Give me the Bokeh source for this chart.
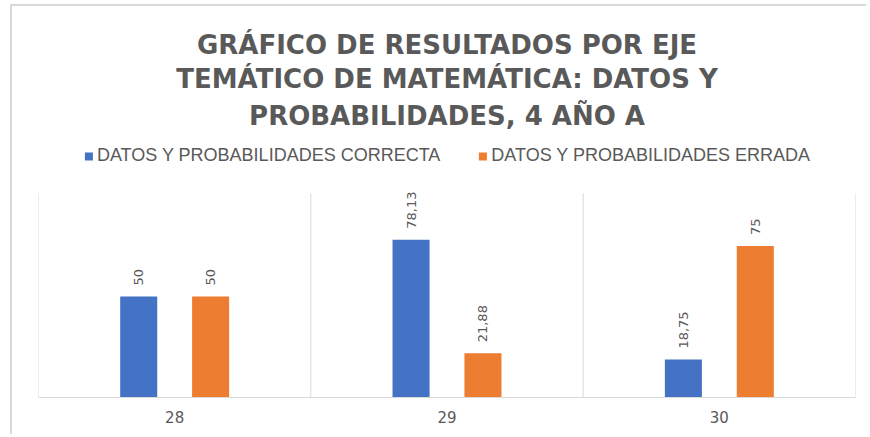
from bokeh.plotting import figure
from bokeh.models import ColumnDataSource, Title, Legend, LegendItem, Range1d, FactorRange
from bokeh.transform import dodge
from bokeh.embed import file_html
from bokeh.resources import INLINE
from bokeh.core.properties import value
import math

categories = ["28", "29", "30"]
correcta = [50, 78.13, 18.75]
errada = [50, 21.88, 75]
correcta_labels = ["50", "78,13", "18,75"]
errada_labels = ["50", "21,88", "75"]
series_names = ["DATOS Y PROBABILIDADES CORRECTA", "DATOS Y PROBABILIDADES ERRADA"]
title_lines = ["GRÁFICO DE RESULTADOS POR EJE",
               "TEMÁTICO DE MATEMÁTICA: DATOS Y",
               "PROBABILIDADES, 4 AÑO A"]

BLUE = "#4472C4"
ORANGE = "#ED7D31"
GRAY_TXT = "#595959"
GRID = "#D9D9D9"

src = ColumnDataSource(dict(cat=categories, c=correcta, e=errada,
                            cl=correcta_labels, el=errada_labels))

Y_TOP = 101  # top of the plotting zone (separators)
p = figure(width=856, height=430, x_range=FactorRange(*categories),
           y_range=Range1d(0, 129.7), output_backend="svg", toolbar_location=None,
           min_border_left=26, min_border_right=13, min_border_bottom=39, min_border_top=129)
p.title = None
p.outline_line_color = None
p.background_fill_color = "white"
p.border_fill_color = "white"
p.styles = {"margin-left": "10px", "margin-top": "4px",
            "border-left": "2px solid #D9D9D9", "border-top": "2px solid #D9D9D9"}

off = 0.132
w = 0.136
r1 = p.vbar(x=dodge("cat", -off, range=p.x_range), top="c", width=w, source=src,
            fill_color=BLUE, line_color=None)
r2 = p.vbar(x=dodge("cat", off, range=p.x_range), top="e", width=w, source=src,
            fill_color=ORANGE, line_color=None)

for col, lab, dx in (("c", "cl", -off), ("e", "el", off)):
    p.text(x=dodge("cat", dx, range=p.x_range), y=col, text=lab, source=src,
           angle=math.pi / 2, text_align="left", text_baseline="middle",
           y_offset=-11, text_font=value("DejaVu Sans"), text_font_size="13px",
           text_color=GRAY_TXT)

# category separators
n = len(categories)
bounds = list(range(n + 1))
p.segment(x0=bounds, x1=bounds, y0=[0] * (n + 1), y1=[Y_TOP] * (n + 1),
          line_color=GRID, line_width=1)

p.xgrid.visible = False
p.ygrid.visible = False
p.yaxis.visible = False
p.xaxis.axis_line_color = GRID
p.xaxis.axis_line_width = 1
p.xaxis.major_tick_line_color = None
p.xaxis.minor_tick_line_color = None
p.xaxis.major_label_text_font = "DejaVu Sans"
p.xaxis.major_label_text_font_size = "15px"
p.xaxis.major_label_text_color = GRAY_TXT
p.xaxis.major_label_standoff = 7

legend = Legend(items=[LegendItem(label=series_names[0], renderers=[r1]),
                       LegendItem(label=series_names[1], renderers=[r2])],
                orientation="horizontal", location="top_center",
                label_text_font="Liberation Sans", label_text_font_size="18px",
                label_text_color=GRAY_TXT, glyph_width=10, glyph_height=10,
                spacing=37, padding=0, margin=10, border_line_color=None,
                label_standoff=4, background_fill_alpha=0)
p.add_layout(legend, "center")

for i, t in enumerate(reversed(title_lines)):
    p.add_layout(Title(text=t, align="center", text_font="DejaVu Sans",
                       text_font_style="bold", text_font_size="26px",
                       text_color=GRAY_TXT, standoff=9 if i == 0 else 2), "above")

open("out.html", "w").write(file_html(p, INLINE))
